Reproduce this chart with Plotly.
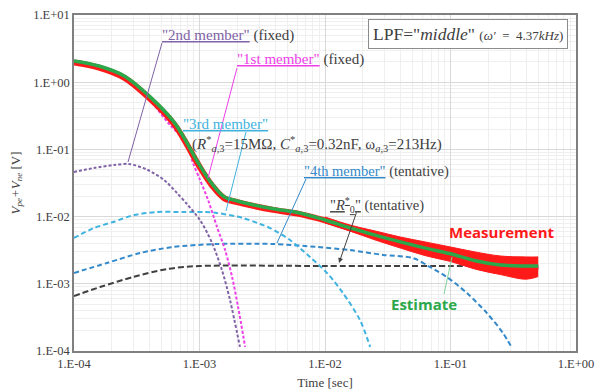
import plotly.graph_objects as go

# ---------------- data ----------------
t_est = [1e-4, 1.58e-4, 2.51e-4, 3.98e-4, 6.31e-4, 1e-3, 1.26e-3, 1.58e-3, 2.0e-3, 2.51e-3,
         3.98e-3, 6.31e-3, 0.01, 0.0158, 0.0251, 0.0398, 0.0631, 0.1, 0.158, 0.251, 0.398, 0.50]
v_est = [2.07, 1.74, 1.24, 0.62, 0.25, 0.0586, 0.0306, 0.0196, 0.0171, 0.0154,
         0.0130, 0.0113, 0.0089, 0.0068, 0.0053, 0.0042, 0.0034, 0.0028, 0.0022, 0.0019, 0.00184, 0.00184]
v_meas = [1.97, 1.65, 1.17, 0.58, 0.235, 0.0555, 0.0290, 0.0187, 0.0164, 0.0148,
          0.0125, 0.0109, 0.0088, 0.0067, 0.0052, 0.0041, 0.0033, 0.0027, 0.0021, 0.0018, 0.00175, 0.00180]

t_band = [0.01, 0.0158, 0.0251, 0.0398, 0.0631, 0.1, 0.158, 0.251, 0.398, 0.50]
v_band_hi = [0.00986, 0.0075, 0.00611, 0.00497, 0.00419, 0.00353, 0.00297, 0.00259, 0.00251, 0.00251]
v_band_lo = [0.00804, 0.00611, 0.00449, 0.00341, 0.00262, 0.00215, 0.00165, 0.00137, 0.00117, 0.00128]

t_m1 = [1e-4, 1.58e-4, 2.51e-4, 3.98e-4, 5.82e-4, 7.94e-4, 8.87e-4, 1.01e-3, 1.17e-3, 1.38e-3,
        1.60e-3, 1.82e-3, 2.03e-3, 2.31e-3]
v_m1 = [1.95, 1.65, 1.15, 0.55, 0.23, 0.124, 0.0628, 0.0351, 0.0177, 0.0070,
        0.00318, 0.00126, 0.000452, 0.000115]

t_m2 = [1e-4, 1.44e-4, 2.08e-4, 2.74e-4, 3.82e-4, 5.22e-4, 6.62e-4, 7.94e-4, 1.01e-3, 1.26e-3,
        1.51e-3, 1.75e-3, 2.10e-3]
v_m2 = [0.0461, 0.0529, 0.0586, 0.0607, 0.0500, 0.0351, 0.0224, 0.0154, 0.00889, 0.00405,
        0.00160, 0.000574, 0.000115]

t_m3 = [1e-4, 1.44e-4, 2.05e-4, 3.01e-4, 4.58e-4, 7.39e-4, 1.09e-3, 1.38e-3, 2.22e-3, 3.04e-3,
        3.65e-3, 5.26e-3, 7.59e-3, 0.01037, 0.0139, 0.0190, 0.0229]
v_m3 = [0.00481, 0.00676, 0.00832, 0.01057, 0.0117, 0.0117, 0.0117, 0.01132, 0.00953, 0.00776,
        0.00676, 0.00449, 0.00251, 0.00145, 0.00073, 0.000289, 0.000115]

t_m4 = [1e-4, 1.83e-4, 3.36e-4, 6.15e-4, 1.38e-3, 3.85e-3, 8.63e-3, 0.0158, 0.0290, 0.0502,
        0.0687, 0.0938, 0.135, 0.195, 0.262, 0.309]
v_m4 = [0.00145, 0.00204, 0.00287, 0.00353, 0.00391, 0.00391, 0.00353, 0.00318, 0.00269, 0.00242,
        0.00178, 0.00126, 0.00073, 0.000367, 0.000185, 0.000111]

t_r0 = [1e-4, 1.61e-4, 2.95e-4, 5.51e-4, 1.0e-3, 0.01, 0.1, 0.5]
v_r0 = [0.000658, 0.000895, 0.00126, 0.00166, 0.00184, 0.00184, 0.00184, 0.00184]

x_tickvals = [1e-4, 1e-3, 1e-2, 1e-1, 1e0]
x_ticktext = ["1.E-04", "1.E-03", "1.E-02", "1.E-01", "1.E+00"]
y_tickvals = [1e-4, 1e-3, 1e-2, 1e-1, 1e0, 1e1]
y_ticktext = ["1.E-04", "1.E-03", "1.E-02", "1.E-01", "1.E+00", "1.E+01"]
minor_x = [m * 10.0 ** e for e in range(-4, 0) for m in range(2, 10)]
minor_y = [m * 10.0 ** e for e in range(-4, 1) for m in range(2, 10)]

# ---------------- figure ----------------
W, H = 596, 392
ML, MR, MT, MB = 74, 20, 15, 41
PW, PH = W - ML - MR, H - MT - MB


def px(x):
    return (x - ML) / PW


def py(y):
    return (H - MB - y) / PH


C_PUR = "#8062a6"
C_MAG = "#ee3ee8"
C_LB = "#3fb3e0"
C_BL = "#3389c9"
C_BK = "#404040"
C_RED = "#ff1a1a"
C_GRN = "#2aa84a"
SERIF = "Liberation Serif"

fig = go.Figure()


def dashed(t, v, color, dash, width=2):
    fig.add_trace(go.Scatter(x=t, y=v, mode="lines", line=dict(color=color, width=width, dash=dash, shape="spline", smoothing=0.8),
                             hoverinfo="skip", showlegend=False))


dashed(t_r0, v_r0, C_BK, "6px,3px")
dashed(t_m4, v_m4, C_BL, "5px,3px")
dashed(t_m3, v_m3, C_LB, "5px,3px")
dashed(t_m2, v_m2, C_PUR, "3px,2px")
dashed(t_m1, v_m1, C_MAG, "3px,2px")

# measurement noise band
fig.add_trace(go.Scatter(x=t_band, y=v_band_hi, mode="lines", line=dict(color=C_RED, width=1, shape="spline"),
                         hoverinfo="skip", showlegend=False))
fig.add_trace(go.Scatter(x=t_band, y=v_band_lo, mode="lines", line=dict(color=C_RED, width=1, shape="spline"),
                         fill="tonexty", fillcolor=C_RED, hoverinfo="skip", showlegend=False))
fig.add_trace(go.Scatter(x=t_est, y=v_meas, mode="lines", line=dict(color=C_RED, width=6, shape="spline"),
                         hoverinfo="skip", showlegend=False, name="Measurement"))
fig.add_trace(go.Scatter(x=t_est, y=v_est, mode="lines", line=dict(color=C_GRN, width=3.5, shape="spline"),
                         hoverinfo="skip", showlegend=False, name="Estimate"))

ann = []


def text(x, y, s, size=15, color=C_BK, family=SERIF, xanchor="left", **kw):
    ann.append(dict(x=px(x), y=py(y), xref="paper", yref="paper", text=s, showarrow=False,
                    xanchor=xanchor, yanchor="middle", font=dict(family=family, size=size, color=color), **kw))


text(160, 35, f'<span style="color:{C_PUR}"><u>"2nd member"</u></span> (fixed)')
text(235, 60, f'<span style="color:{C_MAG}"><u>"1st member"</u></span> (fixed)')
text(181, 124, f'<span style="color:{C_LB}"><u>"3rd member"</u></span>')
text(190, 144, "(<i>R</i><sup>*</sup><sub><i>a</i>,3</sub>=15MΩ, <i>C</i><sup>*</sup><sub><i>a</i>,3</sub>=0.32nF, "
               "ω<sub><i>a</i>,3</sub>=213Hz)")
text(302, 171, f'<span style="color:{C_BL}"><u>"4th member"</u></span> (tentative)', size=14.5)
text(328, 205, '<u>"<i>R</i><sup>*</sup><sub>0</sub>"</u> (tentative)', size=14.5)
text(468, 34, 'LPF="<i>middle</i>" <span style="font-size:13px">(<i>ω′</i>  =  4.37<i>kHz</i>)</span>',
     size=17.5, xanchor="center", bordercolor="#8c8c8c", borderwidth=1, borderpad=4, bgcolor="white")
text(447, 232, "<b>Measurement</b>", size=15, color=C_RED, family="Open Sans", xanchor="left")
text(424, 304, "<b>Estimate</b>", size=15, color=C_GRN, family="Open Sans", xanchor="center")

# leader lines
shapes = []


def leader(x0, y0, x1, y1, color):
    shapes.append(dict(type="line", xref="paper", yref="paper", x0=px(x0), y0=py(y0), x1=px(x1), y1=py(y1),
                       line=dict(color=color, width=1)))


leader(162, 43, 128, 162, C_PUR)
leader(237, 68, 208, 178, C_MAG)
leader(246, 132, 226, 211, C_LB)
leader(306, 179, 277, 243, C_BL)
leader(444, 294, 452, 257, "#7fd39a")

ann.append(dict(x=px(339), y=py(263), xref="paper", yref="paper", ax=18, ay=-52,
                axref="pixel", ayref="pixel", text="", showarrow=True, arrowhead=2, arrowsize=1,
                arrowwidth=1, arrowcolor=C_BK))

fig.update_layout(
    width=W, height=H, margin=dict(l=ML, r=MR, t=MT, b=MB, autoexpand=False),
    paper_bgcolor="white", plot_bgcolor="white",
    annotations=ann, shapes=shapes,
    xaxis=dict(type="log", range=[-4, 0], tickvals=x_tickvals, ticktext=x_ticktext, automargin=False,
               showline=True, linecolor="#808080", linewidth=1.5, mirror=True,
               showgrid=True, gridcolor="#d9d9d9", gridwidth=1, ticks="", zeroline=False,
               minor=dict(tickvals=minor_x, showgrid=True, gridcolor="#efefef", gridwidth=1, ticks=""),
               tickfont=dict(family=SERIF, size=12.5, color="#404040"),
               title=dict(text="Time [sec]", font=dict(family=SERIF, size=13, color="#404040"), standoff=8)),
    yaxis=dict(type="log", range=[-4, 1], tickvals=y_tickvals, ticktext=y_ticktext, automargin=False,
               showline=True, linecolor="#808080", linewidth=1.5, mirror=True,
               showgrid=True, gridcolor="#d9d9d9", gridwidth=1, ticks="", zeroline=False,
               minor=dict(tickvals=minor_y, showgrid=True, gridcolor="#efefef", gridwidth=1, ticks=""),
               tickfont=dict(family=SERIF, size=12.5, color="#404040"),
               title=dict(text="<i>V<sub>pe</sub>+V<sub>ne</sub></i> [V]", font=dict(family=SERIF, size=13, color="#404040"),
                          standoff=10)),
)

fig.write_html("out.html", config={"displayModeBar": False},
               post_script="document.documentElement.style.overflow='hidden';"
                           "document.body.style.margin='0';document.body.style.overflow='hidden';")
